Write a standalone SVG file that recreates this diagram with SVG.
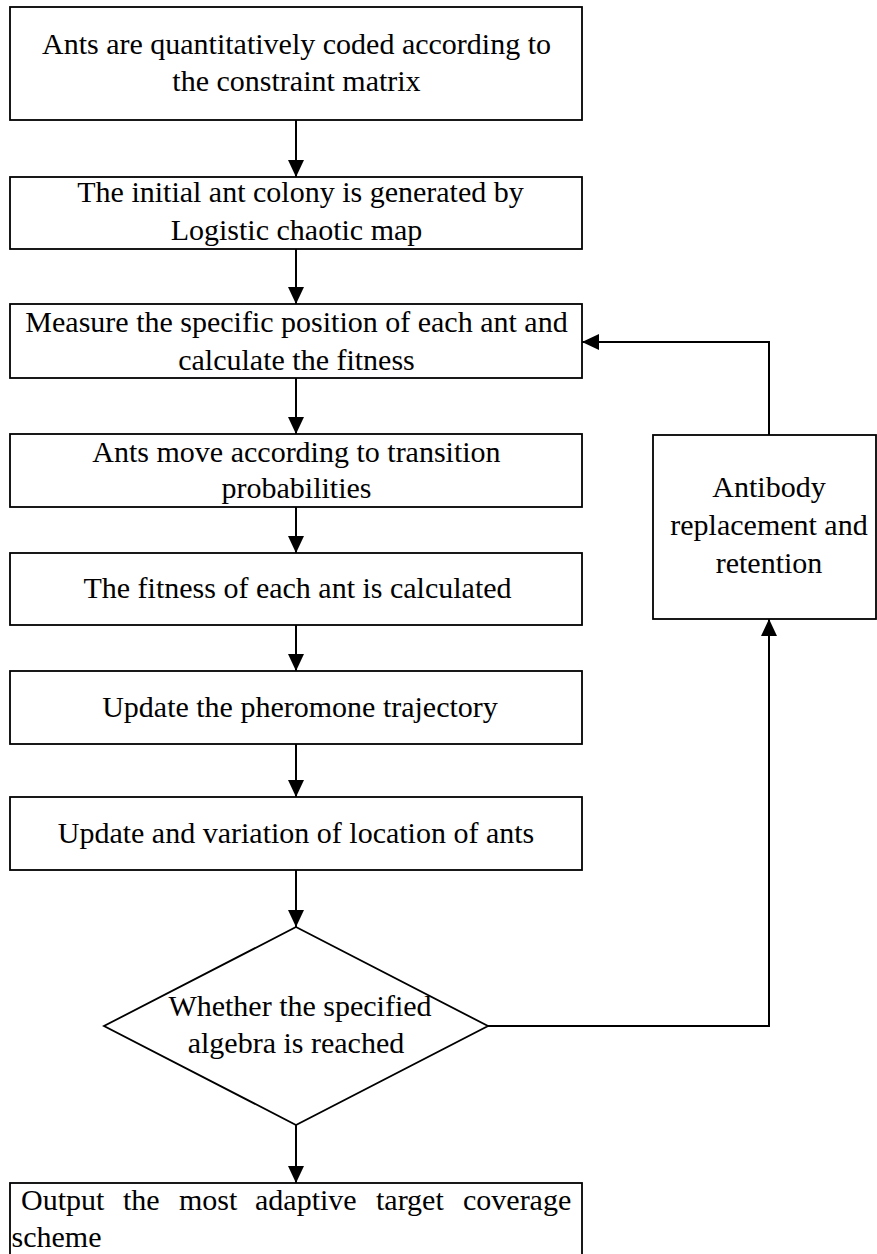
<svg xmlns="http://www.w3.org/2000/svg" width="877" height="1254" viewBox="0 0 877 1254">
<style>
.box{fill:#fff;stroke:#000;stroke-width:1.8}
.t{font-family:"Liberation Serif","Times New Roman",serif;font-size:30px;fill:#000;text-anchor:middle}
.ts{font-family:"Liberation Serif","Times New Roman",serif;font-size:30px;fill:#000}
.c{fill:none;stroke:#000;stroke-width:2}
</style>
<defs>
<marker id="ah" markerUnits="userSpaceOnUse" markerWidth="18" markerHeight="16" refX="17" refY="8" orient="auto">
<path d="M0,0 L17,8 L0,16 z" fill="#000"/>
</marker>
</defs>
<rect width="877" height="1254" fill="#fff"/>
<g id="connectors">
<line class="c" x1="296" y1="120" x2="296" y2="177" marker-end="url(#ah)"/>
<line class="c" x1="296" y1="249" x2="296" y2="304" marker-end="url(#ah)"/>
<line class="c" x1="296" y1="378" x2="296" y2="434" marker-end="url(#ah)"/>
<line class="c" x1="296" y1="507" x2="296" y2="553" marker-end="url(#ah)"/>
<line class="c" x1="296" y1="625" x2="296" y2="671" marker-end="url(#ah)"/>
<line class="c" x1="296" y1="744" x2="296" y2="797" marker-end="url(#ah)"/>
<line class="c" x1="296" y1="870" x2="296" y2="927" marker-end="url(#ah)"/>
<line class="c" x1="296" y1="1125" x2="296" y2="1183" marker-end="url(#ah)"/>
<polyline class="c" points="488,1026 769,1026 769,619" marker-end="url(#ah)"/>
<polyline class="c" points="769,435 769,342 582,342" marker-end="url(#ah)"/>
</g>
<g id="n1">
<rect class="box" x="10" y="7" width="572" height="113"/>
<text class="t" x="296.5" y="54">Ants are quantitatively coded according to</text>
<text class="t" x="296.5" y="91">the constraint matrix</text>
</g>
<g id="n2">
<rect class="box" x="10" y="177" width="572" height="72"/>
<text class="t" x="300.5" y="202">The initial ant colony is generated by</text>
<text class="t" x="296.5" y="240">Logistic chaotic map</text>
</g>
<g id="n3">
<rect class="box" x="10" y="304" width="572" height="74"/>
<text class="t" x="296.5" y="332">Measure the specific position of each ant and</text>
<text class="t" x="296.5" y="370">calculate the fitness</text>
</g>
<g id="n4">
<rect class="box" x="10" y="434" width="572" height="73"/>
<text class="t" x="296.5" y="462">Ants move according to transition</text>
<text class="t" x="296.5" y="498">probabilities</text>
</g>
<g id="n5">
<rect class="box" x="10" y="553" width="572" height="72"/>
<text class="t" x="297.5" y="598">The fitness of each ant is calculated</text>
</g>
<g id="n6">
<rect class="box" x="10" y="671" width="572" height="73"/>
<text class="t" x="300" y="717">Update the pheromone trajectory</text>
</g>
<g id="n7">
<rect class="box" x="10" y="797" width="572" height="73"/>
<text class="t" x="296" y="843">Update and variation of location of ants</text>
</g>
<g id="n8">
<polygon class="box" points="296,927 488,1026 296,1125 104,1026"/>
<text class="t" x="300" y="1016">Whether the specified</text>
<text class="t" x="296" y="1053">algebra is reached</text>
</g>
<g id="n9">
<rect class="box" x="10" y="1183" width="572" height="90"/>
<text class="ts" y="1210"><tspan x="21">Output</tspan><tspan x="123">the</tspan><tspan x="179">most</tspan><tspan x="255">adaptive</tspan><tspan x="376">target</tspan><tspan x="463">coverage</tspan></text>
<text class="ts" x="11.5" y="1247">scheme</text>
</g>
<g id="n10">
<rect class="box" x="653" y="435" width="223" height="184"/>
<text class="t" x="769" y="497">Antibody</text>
<text class="t" x="769" y="535">replacement and</text>
<text class="t" x="769" y="573">retention</text>
</g>
</svg>
